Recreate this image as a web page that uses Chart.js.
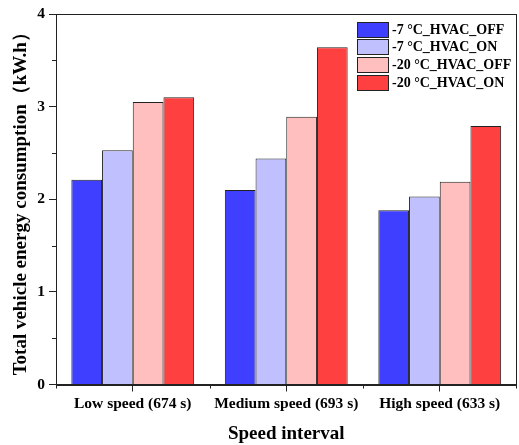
<!DOCTYPE html>
<html>
<head>
<meta charset="utf-8">
<script src="https://cdn.jsdelivr.net/npm/chart.js@4"></script>
<style>
  body { margin: 0; background: #fff; }
  #wrap { width: 519px; height: 445px; }
</style>
</head>
<body>
<div id="wrap"><canvas id="bar_Chart"></canvas></div>
<script>
// dados do gráfico
const categorias = ['Low speed (674 s)', 'Medium speed (693 s)', 'High speed (633 s)'];
const menos7_off = [2.21, 2.10, 1.88];
const menos7_on = [2.53, 2.44, 2.03];
const menos20_off = [3.05, 2.89, 2.19];
const menos20_on = [3.10, 3.64, 2.79];
const nomes = ['-7 °C_HVAC_OFF', '-7 °C_HVAC_ON', '-20 °C_HVAC_OFF', '-20 °C_HVAC_ON'];
const cores = ['#3f3fff', '#c0c0ff', '#ffbfbf', '#ff4040'];
const yMin = 0, yMax = 4, yStep = 1;

const fonte = "'Liberation Serif', 'Times New Roman', serif";
const chartCanvas = document.getElementById('bar_Chart');

// moldura, ticks menores e legenda dentro do gráfico
const extras = {
  id: 'extras',
  afterDraw(chart) {
    const ctx = chart.ctx;
    const a = chart.chartArea;
    const x = chart.scales.x, y = chart.scales.y;
    ctx.save();
    ctx.strokeStyle = '#222';
    ctx.lineWidth = 1;
    ctx.strokeRect(Math.round(a.left) + 0.5, Math.round(a.top) + 0.5,
      Math.round(a.right - a.left) - 1, Math.round(a.bottom - a.top));
    // ticks menores no eixo y
    ctx.beginPath();
    for (let v = yMin + yStep / 2; v < yMax; v += yStep) {
      const py = Math.round(y.getPixelForValue(v)) + 0.5;
      ctx.moveTo(a.left - 4, py);
      ctx.lineTo(a.left, py);
    }
    // ticks menores no eixo x (bordas e entre categorias)
    for (let i = -1; i < categorias.length; i++) {
      let px = (x.getPixelForValue(i) + x.getPixelForValue(i + 1)) / 2;
      if (i === -1) px = a.left;
      if (i === categorias.length - 1) px = a.right - 1;
      px = Math.round(px) + 0.5;
      ctx.moveTo(px, a.bottom);
      ctx.lineTo(px, a.bottom + 4);
    }
    ctx.stroke();

    // legenda
    const bx = Math.round(a.right - 160), by = a.top + 7.5;
    ctx.font = 'bold 14px ' + fonte;
    ctx.textBaseline = 'middle';
    ctx.textAlign = 'left';
    chart.data.datasets.forEach((ds, i) => {
      const yy = Math.round(by + i * 17.7);
      ctx.fillStyle = ds.backgroundColor;
      ctx.fillRect(bx, yy, 31, 15);
      ctx.strokeStyle = '#222';
      ctx.strokeRect(bx + 0.5, yy + 0.5, 31, 15);
      ctx.fillStyle = '#000';
      ctx.fillText(ds.label, bx + 35, yy + 8);
    });
    ctx.restore();
  }
};

const data = {
  labels: categorias,
  datasets: [menos7_off, menos7_on, menos20_off, menos20_on].map((vals, i) => ({
    label: nomes[i],
    data: vals,
    backgroundColor: cores[i],
    borderColor: '#222',
    borderWidth: 1,
    categoryPercentage: 0.8,
    barPercentage: 1
  }))
};

const config = {
  type: 'bar',
  data: data,
  options: {
    responsive: true,
    maintainAspectRatio: false,
    animation: false,
    devicePixelRatio: 1,
    layout: { padding: { top: 14, right: 2.5, left: 0, bottom: 0 } },
    plugins: {
      legend: { display: false },
      tooltip: { enabled: false }
    },
    scales: {
      x: {
        grid: { display: true, drawOnChartArea: false, offset: false, tickLength: 7, color: '#222' },
        border: { color: '#222' },
        ticks: { color: '#000', padding: 3, font: { family: fonte, size: 15.5, weight: 'bold' }, maxRotation: 0 },
        title: { display: true, text: 'Speed interval', color: '#000', padding: { top: 0, bottom: 0 }, font: { family: fonte, size: 19, weight: 'bold' } },
        afterFit(scale) { scale.height = 60.5; }
      },
      y: {
        min: yMin,
        max: yMax,
        grid: { display: true, drawOnChartArea: false, tickLength: 7, color: '#222' },
        border: { color: '#222' },
        ticks: { stepSize: yStep, color: '#000', padding: 4, font: { family: fonte, size: 15.5, weight: 'bold' } },
        title: { display: true, text: 'Total vehicle energy consumption（kW.h）', color: '#000', padding: { top: 9.5, bottom: 0 }, font: { family: fonte, size: 19, weight: 'bold' } },
        afterFit(scale) { scale.width = 56; }
      }
    }
  },
  plugins: [extras]
};

const myChart = new Chart(chartCanvas, config);
</script>
</body>
</html>
